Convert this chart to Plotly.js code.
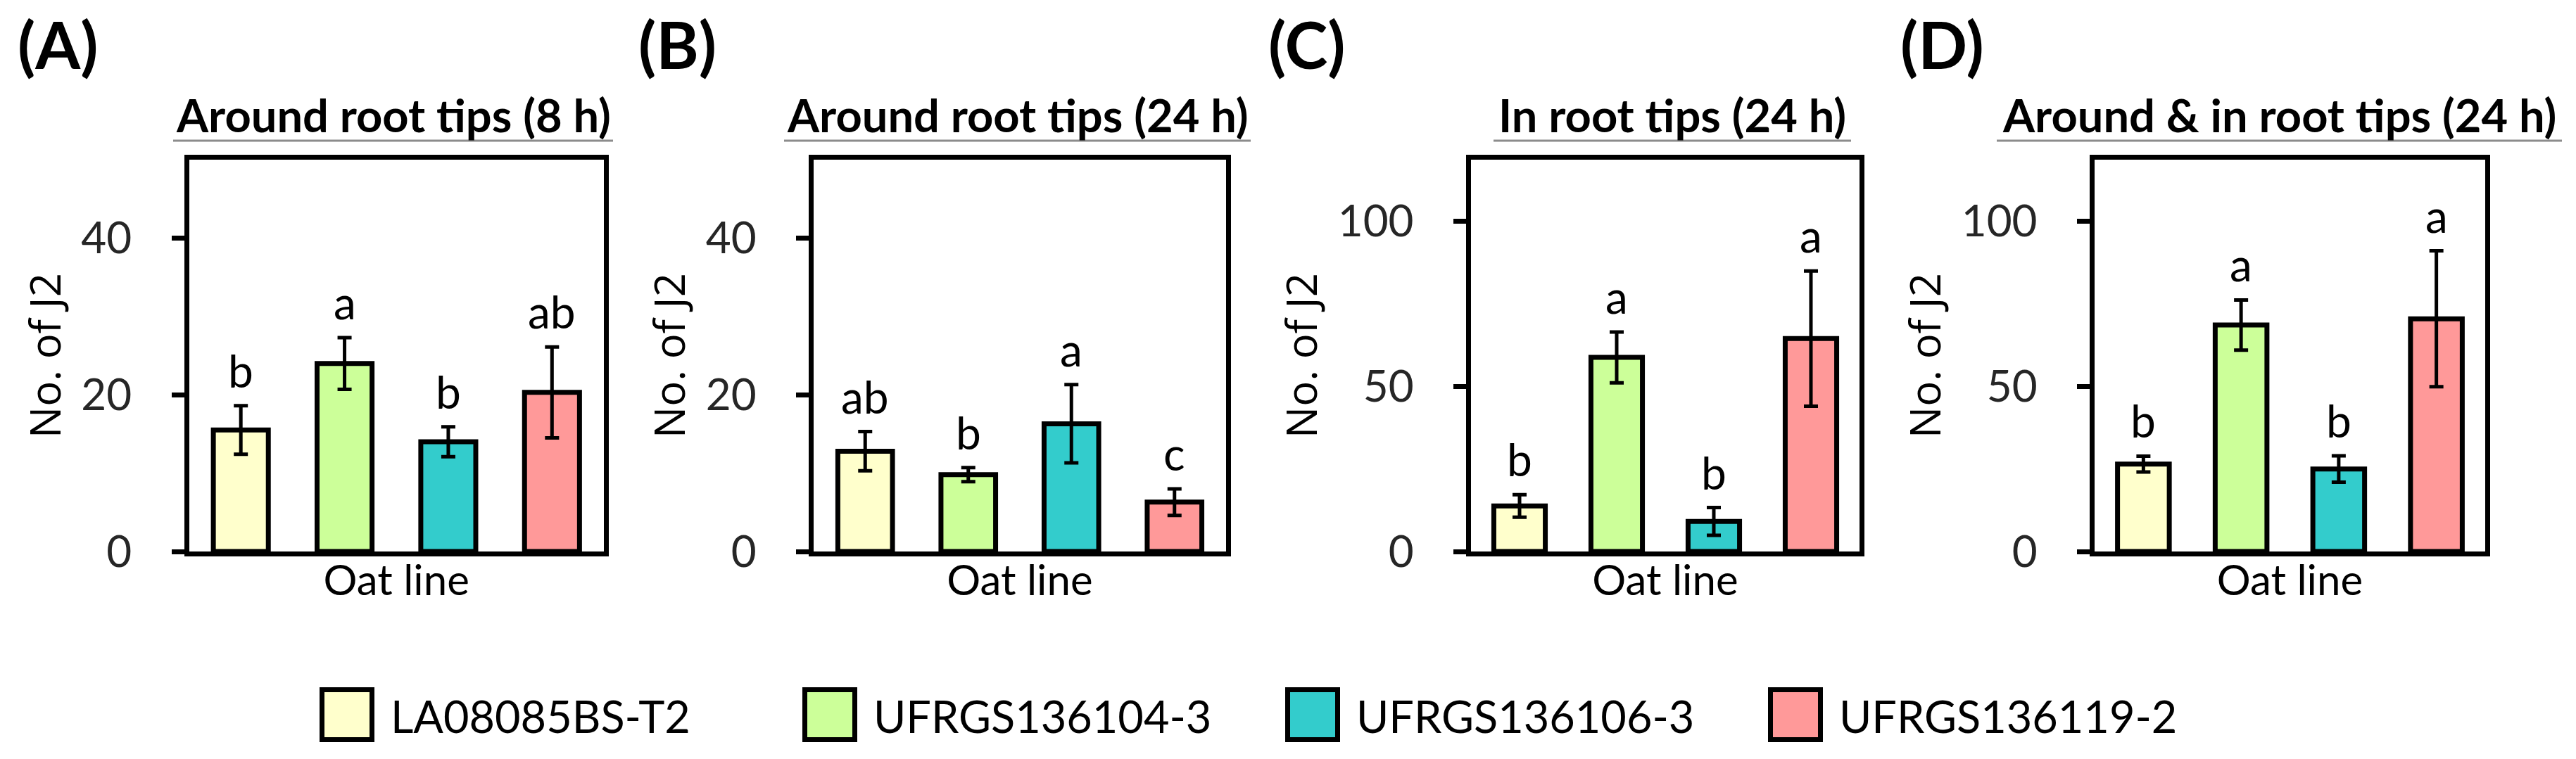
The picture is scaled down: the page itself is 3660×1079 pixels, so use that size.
<!DOCTYPE html>
<html>
<head>
<meta charset="utf-8">
<script src="https://cdn.plot.ly/plotly-3.0.1.min.js"></script>
<style>
  html, body { margin: 0; padding: 0; background: #ffffff; }
  #chart { width: 3660px; height: 1079px; }
</style>
</head>
<body>
<div id="chart"></div>
<script>
// ---------------- DATA ----------------
const oatLines = ['LA08085BS-T2', 'UFRGS136104-3', 'UFRGS136106-3', 'UFRGS136119-2'];
const lineColors = ['#FFFFCC', '#CCFF99', '#33CCCC', '#FF9999'];

const panelLabels = ['(A)', '(B)', '(C)', '(D)'];
const panelTitles = ['Around root tips (8 h)', 'Around root tips (24 h)', 'In root tips (24 h)', 'Around & in root tips (24 h)'];

const meanA = [15.5, 24.0, 14.0, 20.3];
const errA  = [3.1, 3.3, 1.9, 5.8];
const letA  = ['b', 'a', 'b', 'ab'];

const meanB = [12.8, 9.8, 16.3, 6.3];
const errB  = [2.5, 0.9, 5.0, 1.7];
const letB  = ['ab', 'b', 'a', 'c'];

const meanC = [13.8, 58.8, 9.1, 64.5];
const errC  = [3.4, 7.7, 4.2, 20.5];
const letC  = ['b', 'a', 'b', 'a'];

const meanD = [26.5, 68.6, 25.0, 70.5];
const errD  = [2.4, 7.6, 4.0, 20.6];
const letD  = ['b', 'a', 'b', 'a'];

const ticksAB = [0, 20, 40];
const ticksCD = [0, 50, 100];
const yTitle = 'No. of J2';
const xTitle = 'Oat line';

// ---------------- LAYOUT HELPERS ----------------
const W = 3660, H = 1079;
const NARROW = "Lato, 'Liberation Sans', sans-serif";
const WIDE = "'Open Sans', 'Noto Sans', 'DejaVu Sans', sans-serif";
const px = v => v / W;
const py = v => 1 - v / H;

const panels = [
  { mean: meanA, err: errA, let: letA, ticks: ticksAB, range: [0, 50],    dom: [268.5, 858] },
  { mean: meanB, err: errB, let: letB, ticks: ticksAB, range: [0, 50],    dom: [1156, 1742] },
  { mean: meanC, err: errC, let: letC, ticks: ticksCD, range: [0, 118.7], dom: [2090, 2642] },
  { mean: meanD, err: errD, let: letD, ticks: ticksCD, range: [0, 118.7], dom: [2976, 3531] }
];
const labelX = [23, 905, 1800, 2698];
const underline = [[246, 871], [1114, 1777], [2122, 2630], [2837, 3640]];
const plotTop = 227, plotBottom = 784;

const traces = [];
const layout = {
  width: W, height: H,
  margin: { l: 0, r: 0, t: 0, b: 0, pad: 0 },
  paper_bgcolor: '#ffffff',
  plot_bgcolor: '#ffffff',
  showlegend: false,
  bargap: 0.47,
  font: { family: NARROW, color: '#000000' },
  annotations: [],
  shapes: []
};

panels.forEach((p, i) => {
  const n = i === 0 ? '' : String(i + 1);
  traces.push({
    type: 'bar',
    x: oatLines,
    y: p.mean,
    xaxis: 'x' + n,
    yaxis: 'y' + n,
    marker: { color: lineColors, line: { color: '#000000', width: 7 } },
    error_y: { type: 'data', array: p.err, visible: true, color: '#000000', thickness: 5, width: 10 },
    hoverinfo: 'none'
  });
  layout['xaxis' + n] = {
    domain: [px(p.dom[0]), px(p.dom[1])],
    anchor: 'y' + n,
    type: 'category',
    categoryorder: 'array',
    categoryarray: oatLines,
    showticklabels: false,
    ticks: '',
    showgrid: false,
    zeroline: false,
    showline: true,
    mirror: true,
    linecolor: '#000000',
    linewidth: 7,
    title: { text: xTitle, font: { family: NARROW, size: 60, color: '#000000' }, standoff: 16 }
  };
  layout['yaxis' + n] = {
    domain: [py(plotBottom), py(plotTop)],
    anchor: 'x' + n,
    range: p.range,
    tickmode: 'array',
    tickvals: p.ticks,
    ticktext: p.ticks.map(String),
    ticks: 'outside',
    ticklen: 18,
    tickwidth: 7,
    tickcolor: '#000000',
    ticklabelstandoff: 44,
    tickfont: { family: NARROW, size: 62, color: '#262626' },
    showgrid: false,
    zeroline: false,
    showline: true,
    mirror: true,
    linecolor: '#000000',
    linewidth: 7,
    title: { text: yTitle, font: { family: WIDE, size: 60, color: '#000000' }, standoff: 12 }
  };
  // significance letters
  p.let.forEach((t, j) => {
    layout.annotations.push({
      xref: 'x' + n, yref: 'y' + n,
      x: oatLines[j], y: p.mean[j] + p.err[j],
      text: t, showarrow: false,
      xanchor: 'center', yanchor: 'bottom', yshift: 10,
      font: { family: NARROW, size: 64, color: '#000000' }
    });
  });
  // panel title
  layout.annotations.push({
    xref: 'paper', yref: 'paper',
    x: px((underline[i][0] + underline[i][1]) / 2), y: py(163),
    text: panelTitles[i], showarrow: false,
    xanchor: 'center', yanchor: 'middle',
    font: { family: NARROW, size: 65, color: '#000000', weight: 700 }
  });
  layout.shapes.push({
    type: 'line', xref: 'paper', yref: 'paper',
    x0: px(underline[i][0]), x1: px(underline[i][1]), y0: py(200), y1: py(200),
    line: { color: '#8c8c8c', width: 3 }
  });
  // panel label
  layout.annotations.push({
    xref: 'paper', yref: 'paper',
    x: px(labelX[i]), y: py(63),
    text: panelLabels[i], showarrow: false,
    xanchor: 'left', yanchor: 'middle',
    font: { family: NARROW, size: 92, color: '#000000', weight: 700 }
  });
});

// manual legend (large square swatches)
oatLines.forEach((name, k) => {
  const x0 = 454 + k * 686;
  layout.shapes.push({
    type: 'rect', xref: 'paper', yref: 'paper',
    x0: px(x0 + 3.5), x1: px(x0 + 78 - 3.5), y0: py(977 + 3.5), y1: py(1055 - 3.5),
    fillcolor: lineColors[k], line: { color: '#000000', width: 7 }
  });
  layout.annotations.push({
    xref: 'paper', yref: 'paper',
    x: px(x0 + 99), y: py(1017),
    text: name, showarrow: false,
    xanchor: 'left', yanchor: 'middle',
    font: { family: NARROW, size: 63, color: '#000000' }
  });
});

Plotly.newPlot('chart', traces, layout, { staticPlot: true, displayModeBar: false });
</script>
</body>
</html>
